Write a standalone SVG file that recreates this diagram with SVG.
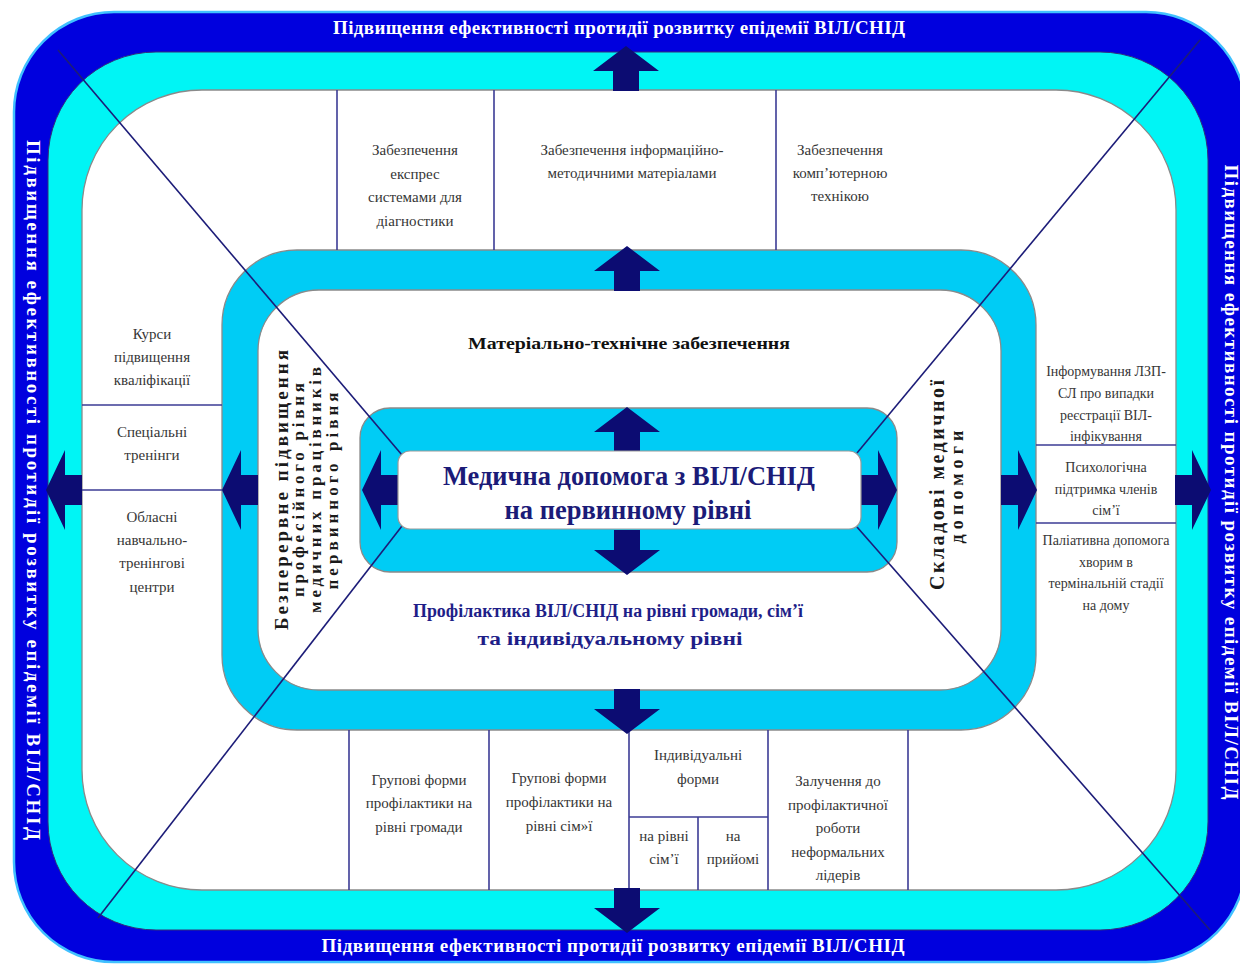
<svg xmlns="http://www.w3.org/2000/svg" width="1240" height="967" viewBox="0 0 1240 967">
<style>
text{font-family:"Liberation Serif","DejaVu Serif",serif}
.s{font-size:15px;fill:#363636;text-anchor:middle}
.r{font-size:14px;fill:#363636;text-anchor:middle}
.w{font-size:19px;font-weight:bold;fill:#ffffff;text-anchor:middle;dominant-baseline:central}
.rot{font-weight:bold;fill:#1a1a1a;text-anchor:middle;dominant-baseline:central}
.dv{stroke:#3b3b95;stroke-width:1.6;fill:none}
.dg{stroke:#1c1c78;stroke-width:1.6;fill:none}
.arr{fill:#0c0c72}
.ring{fill:#00CCF5;stroke:#8a8a8a;stroke-width:1.3}
.wh{fill:#ffffff;stroke:#8a8a8a;stroke-width:1.3}
</style>
<defs>
<path id="av" d="M0,0 L33,25 L13,25 L13,45 L-13,45 L-13,25 L-33,25 Z"/>
<path id="ah" d="M0,0 L19,-40 L19,-15 L36,-15 L36,15 L19,15 L19,40 Z"/>
</defs>
<rect width="1240" height="967" fill="#ffffff"/>
<g id="frame">
<rect x="14" y="12" width="1232" height="950" rx="100" fill="#0000DE" stroke="#40C0FF" stroke-width="2.5"/>
<rect x="48" y="52" width="1160" height="878" rx="108" fill="#00F5F5" stroke="#30307a" stroke-width="1"/>
<rect x="82" y="90" width="1094" height="800" rx="120" class="wh"/>
<rect x="222" y="250" width="814" height="480" rx="75" class="ring"/>
<rect x="258" y="290" width="743" height="400" rx="61" class="wh"/>
<rect x="360" y="408" width="537" height="164" rx="30" class="ring"/>
</g>
<g id="connectors">
<line class="dg" x1="58" y1="50" x2="402" y2="455"/>
<line class="dg" x1="98" y1="918" x2="402" y2="526"/>
<line class="dg" x1="1200" y1="40" x2="857" y2="453"/>
<line class="dg" x1="1210" y1="930" x2="857" y2="527"/>
<line class="dv" x1="337" y1="90" x2="337" y2="250"/>
<line class="dv" x1="494" y1="90" x2="494" y2="250"/>
<line class="dv" x1="776" y1="90" x2="776" y2="250"/>
<line class="dv" x1="82" y1="405" x2="222" y2="405"/>
<line class="dv" x1="82" y1="490" x2="222" y2="490"/>
<line class="dv" x1="1036" y1="445" x2="1176" y2="445"/>
<line class="dv" x1="1036" y1="523" x2="1176" y2="523"/>
<line class="dv" x1="349" y1="730" x2="349" y2="890"/>
<line class="dv" x1="489" y1="730" x2="489" y2="890"/>
<line class="dv" x1="629" y1="730" x2="629" y2="890"/>
<line class="dv" x1="768" y1="730" x2="768" y2="890"/>
<line class="dv" x1="908" y1="730" x2="908" y2="890"/>
<line class="dv" x1="629" y1="817" x2="768" y2="817"/>
<line class="dv" x1="698" y1="817" x2="698" y2="890"/>
<g class="arr">
<use href="#av" transform="translate(626,46)"/>
<use href="#av" transform="translate(627,246)"/>
<use href="#av" transform="translate(627,407)"/>
<use href="#av" transform="translate(627,575) rotate(180)"/>
<use href="#av" transform="translate(627,734) rotate(180)"/>
<use href="#av" transform="translate(627,933) rotate(180)"/>
<use href="#ah" transform="translate(46,490)"/>
<use href="#ah" transform="translate(222,490)"/>
<use href="#ah" transform="translate(362,490)"/>
<use href="#ah" transform="translate(897,490) rotate(180)"/>
<use href="#ah" transform="translate(1037,490) rotate(180)"/>
<use href="#ah" transform="translate(1211,490) rotate(180)"/>
</g>
</g>
<g id="outer-titles">
<text class="w" x="619" y="27" textLength="572">Підвищення ефективності протидії розвитку епідемії ВІЛ/СНІД</text>
<text class="w" x="613" y="945" textLength="583">Підвищення ефективності протидії розвитку епідемії ВІЛ/СНІД</text>
<text class="w" transform="translate(33,490) rotate(90)" textLength="700">Підвищення ефективності протидії розвитку епідемії ВІЛ/СНІД</text>
<text class="w" transform="translate(1231,482) rotate(90)" textLength="635">Підвищення ефективності протидії розвитку епідемії ВІЛ/СНІД</text>
</g>
<g id="center">
<rect x="398" y="451" width="463" height="78" rx="12" fill="#ffffff" stroke="#999999" stroke-width="1.2"/>
<text x="629" y="485" font-size="28" font-weight="bold" fill="#1b1b78" text-anchor="middle" textLength="372" lengthAdjust="spacingAndGlyphs">Медична допомога з ВІЛ/СНІД</text>
<text x="628" y="519" font-size="28" font-weight="bold" fill="#1b1b78" text-anchor="middle" textLength="247" lengthAdjust="spacingAndGlyphs">на первинному рівні</text>
</g>
<g id="material">
<text x="629" y="349" font-size="17" font-weight="bold" fill="#111111" text-anchor="middle" textLength="322" lengthAdjust="spacingAndGlyphs">Матеріально-технічне забезпечення</text>
</g>
<g id="prevention">
<text x="608" y="617" font-size="18" font-weight="bold" fill="#1e1e88" text-anchor="middle" textLength="390" lengthAdjust="spacingAndGlyphs">Профілактика ВІЛ/СНІД на рівні громади, сім’ї</text>
<text x="610" y="645" font-size="18" font-weight="bold" fill="#1e1e88" text-anchor="middle" textLength="265" lengthAdjust="spacingAndGlyphs">та індивідуальному рівні</text>
</g>
<g id="training">
<text class="rot" font-size="19" transform="translate(281,490) rotate(-90)" textLength="280">Безперервне підвищення</text>
<text class="rot" font-size="17" transform="translate(298,490) rotate(-90)" textLength="214">професійного рівня</text>
<text class="rot" font-size="17" transform="translate(315,490) rotate(-90)" textLength="246">медичних працівників</text>
<text class="rot" font-size="17" transform="translate(332,491) rotate(-90)" textLength="197">первинного рівня</text>
</g>
<g id="components">
<text class="rot" font-size="20" transform="translate(937,485) rotate(-90)" textLength="210">Складові медичної</text>
<text class="rot" font-size="18" transform="translate(957,487) rotate(-90)" textLength="113">допомоги</text>
</g>
<g id="top-boxes">
<text class="s" x="415" y="155">Забезпечення</text>
<text class="s" x="415" y="179">експрес</text>
<text class="s" x="415" y="202">системами для</text>
<text class="s" x="415" y="226">діагностики</text>
<text class="s" x="632" y="155">Забезпечення інформаційно-</text>
<text class="s" x="632" y="178">методичними матеріалами</text>
<text class="s" x="840" y="155">Забезпечення</text>
<text class="s" x="840" y="178">комп’ютерною</text>
<text class="s" x="840" y="201">технікою</text>
</g>
<g id="left-boxes">
<text class="s" x="152" y="339">Курси</text>
<text class="s" x="152" y="362">підвищення</text>
<text class="s" x="152" y="385">кваліфікації</text>
<text class="s" x="152" y="437">Спеціальні</text>
<text class="s" x="152" y="460">тренінги</text>
<text class="s" x="152" y="522">Обласні</text>
<text class="s" x="152" y="545">навчально-</text>
<text class="s" x="152" y="568">тренінгові</text>
<text class="s" x="152" y="592">центри</text>
</g>
<g id="right-boxes">
<text class="r" x="1106" y="376">Інформування ЛЗП-</text>
<text class="r" x="1106" y="398">СЛ про випадки</text>
<text class="r" x="1106" y="420">реєстрації ВІЛ-</text>
<text class="r" x="1106" y="441">інфікування</text>
<text class="r" x="1106" y="472">Психологічна</text>
<text class="r" x="1106" y="494">підтримка членів</text>
<text class="r" x="1106" y="515">сім’ї</text>
<text class="r" x="1106" y="545">Паліативна допомога</text>
<text class="r" x="1106" y="567">хворим в</text>
<text class="r" x="1106" y="588">термінальній стадії</text>
<text class="r" x="1106" y="610">на дому</text>
</g>
<g id="bottom-boxes">
<text class="s" x="419" y="785">Групові форми</text>
<text class="s" x="419" y="808">профілактики на</text>
<text class="s" x="419" y="832">рівні громади</text>
<text class="s" x="559" y="783">Групові форми</text>
<text class="s" x="559" y="807">профілактики на</text>
<text class="s" x="559" y="831">рівні сім»ї</text>
<text class="s" x="698" y="760">Індивідуальні</text>
<text class="s" x="698" y="784">форми</text>
<text class="s" x="664" y="841">на рівні</text>
<text class="s" x="664" y="864">сім’ї</text>
<text class="s" x="733" y="841">на</text>
<text class="s" x="733" y="864">прийомі</text>
<text class="s" x="838" y="786">Залучення до</text>
<text class="s" x="838" y="810">профілактичної</text>
<text class="s" x="838" y="833">роботи</text>
<text class="s" x="838" y="857">неформальних</text>
<text class="s" x="838" y="880">лідерів</text>
</g>
</svg>
